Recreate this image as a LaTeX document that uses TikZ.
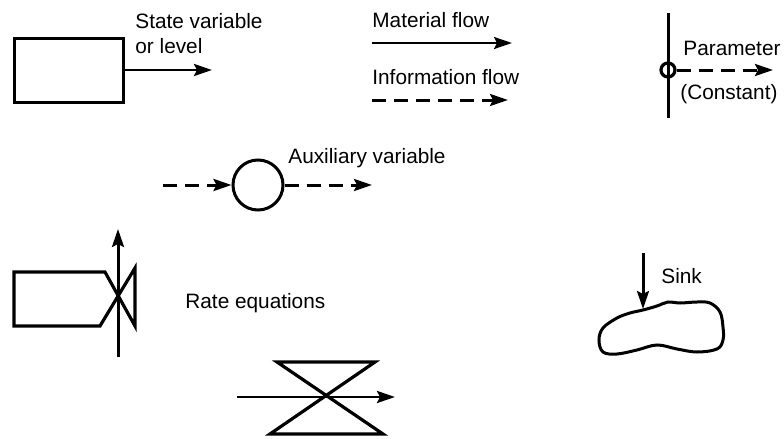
\documentclass[tikz,border=0pt]{standalone}
\usepackage{fontspec}
\setmainfont{Liberation Sans}
\usepackage{tikz}
\usetikzlibrary{arrows.meta}

\begin{document}
\begin{tikzpicture}[
    x=0.5pt, y=-0.5pt,
    lbl/.style={font=\fontsize{10.4}{12.5}\selectfont, inner sep=0pt, align=left},
    level/.style={rectangle, draw, line width=1.5pt, minimum width=54.5pt, minimum height=32pt, inner sep=0pt},
    aux/.style={circle, draw, line width=1.5pt, minimum size=25pt, inner sep=0pt},
    param/.style={circle, draw, line width=1.6pt, minimum size=7pt, inner sep=0pt},
    flow/.style={-{Stealth[length=9pt, width=6pt, inset=1.5pt]}, line width=1.1pt},
    info/.style={flow, line width=1.5pt, dash pattern=on 7pt off 4pt},
    outline/.style={line width=1.6pt, line join=miter}
]
\useasboundingbox (0,0) rectangle (784,439);

% state variable
\node[level] (lev) at (68.5,70) {};
\coordinate (levout) at (212,70);
\draw[flow, line width=1.4pt] (lev) -- (levout);
\node[lbl, anchor=north west] (levtxt) at (135,13) {State variable\\or level};

% material and information flow
\node[lbl, anchor=base west] (mattxt) at (372,27) {Material flow};
\coordinate (mat1) at (372,43);
\coordinate (mat2) at (512,43);
\draw[flow] (mat1) -- (mat2);
\node[lbl, anchor=base west] (inftxt) at (372,84) {Information flow};
\coordinate (inf1) at (372,100);
\coordinate (inf2) at (508,100);
\draw[info] (inf1) -- (inf2);

% parameter
\node[param] (par) at (668,70) {};
\coordinate (partop) at (668,13);
\coordinate (parbot) at (668,118);
\coordinate (parout) at (773,70);
\draw[line width=1.5pt] (partop) -- (parbot);
\draw[info] (par) -- (parout);
\node[lbl, anchor=base west] (partxt) at (683,55) {Parameter};
\node[lbl, anchor=base west] (contxt) at (680,99) {(Constant)};

% auxiliary variable
\node[aux] (aux) at (258,185) {};
\coordinate (auxin) at (163,185);
\coordinate (auxout) at (372,185);
\draw[info] (auxin) -- (aux);
\draw[info] (aux) -- (auxout);
\node[lbl, anchor=base west] (auxtxt) at (288,163) {Auxiliary variable};

% rate equations
\draw[outline] (105,272) -- (14,272) -- (14,326) -- (100,326) -- (135,268) -- (135,326) -- cycle;
\coordinate (rate1) at (118,357);
\coordinate (rate2) at (118,229);
\draw[flow, line width=1.5pt] (rate1) -- (rate2);
\node[lbl, anchor=base west] (ratetxt) at (185,308) {Rate equations};

\draw[outline] (277,362) -- (375,362) -- (270,434) -- (383,434) -- cycle;
\coordinate (valve1) at (237,397);
\coordinate (valve2) at (395,397);
\draw[flow, line width=1.4pt] (valve1) -- (valve2);

% sink
\draw[line width=1.5pt] plot[smooth cycle, tension=0.6] coordinates {
  (643,310) (657,306) (668,302) (680,303) (697,302) (710,303) (720,312)
  (723,327) (723,340) (717,349) (697,352) (677,349) (657,345) (637,350)
  (617,354) (603,352) (599,340) (603,328) (617,318) (630,313)};
\coordinate (sinkin) at (643,253);
\coordinate (sink) at (643,309);
\draw[flow, line width=1.5pt] (sinkin) -- (sink);
\node[lbl, anchor=base west] (sinktxt) at (661,283) {Sink};
\end{tikzpicture}
\end{document}
